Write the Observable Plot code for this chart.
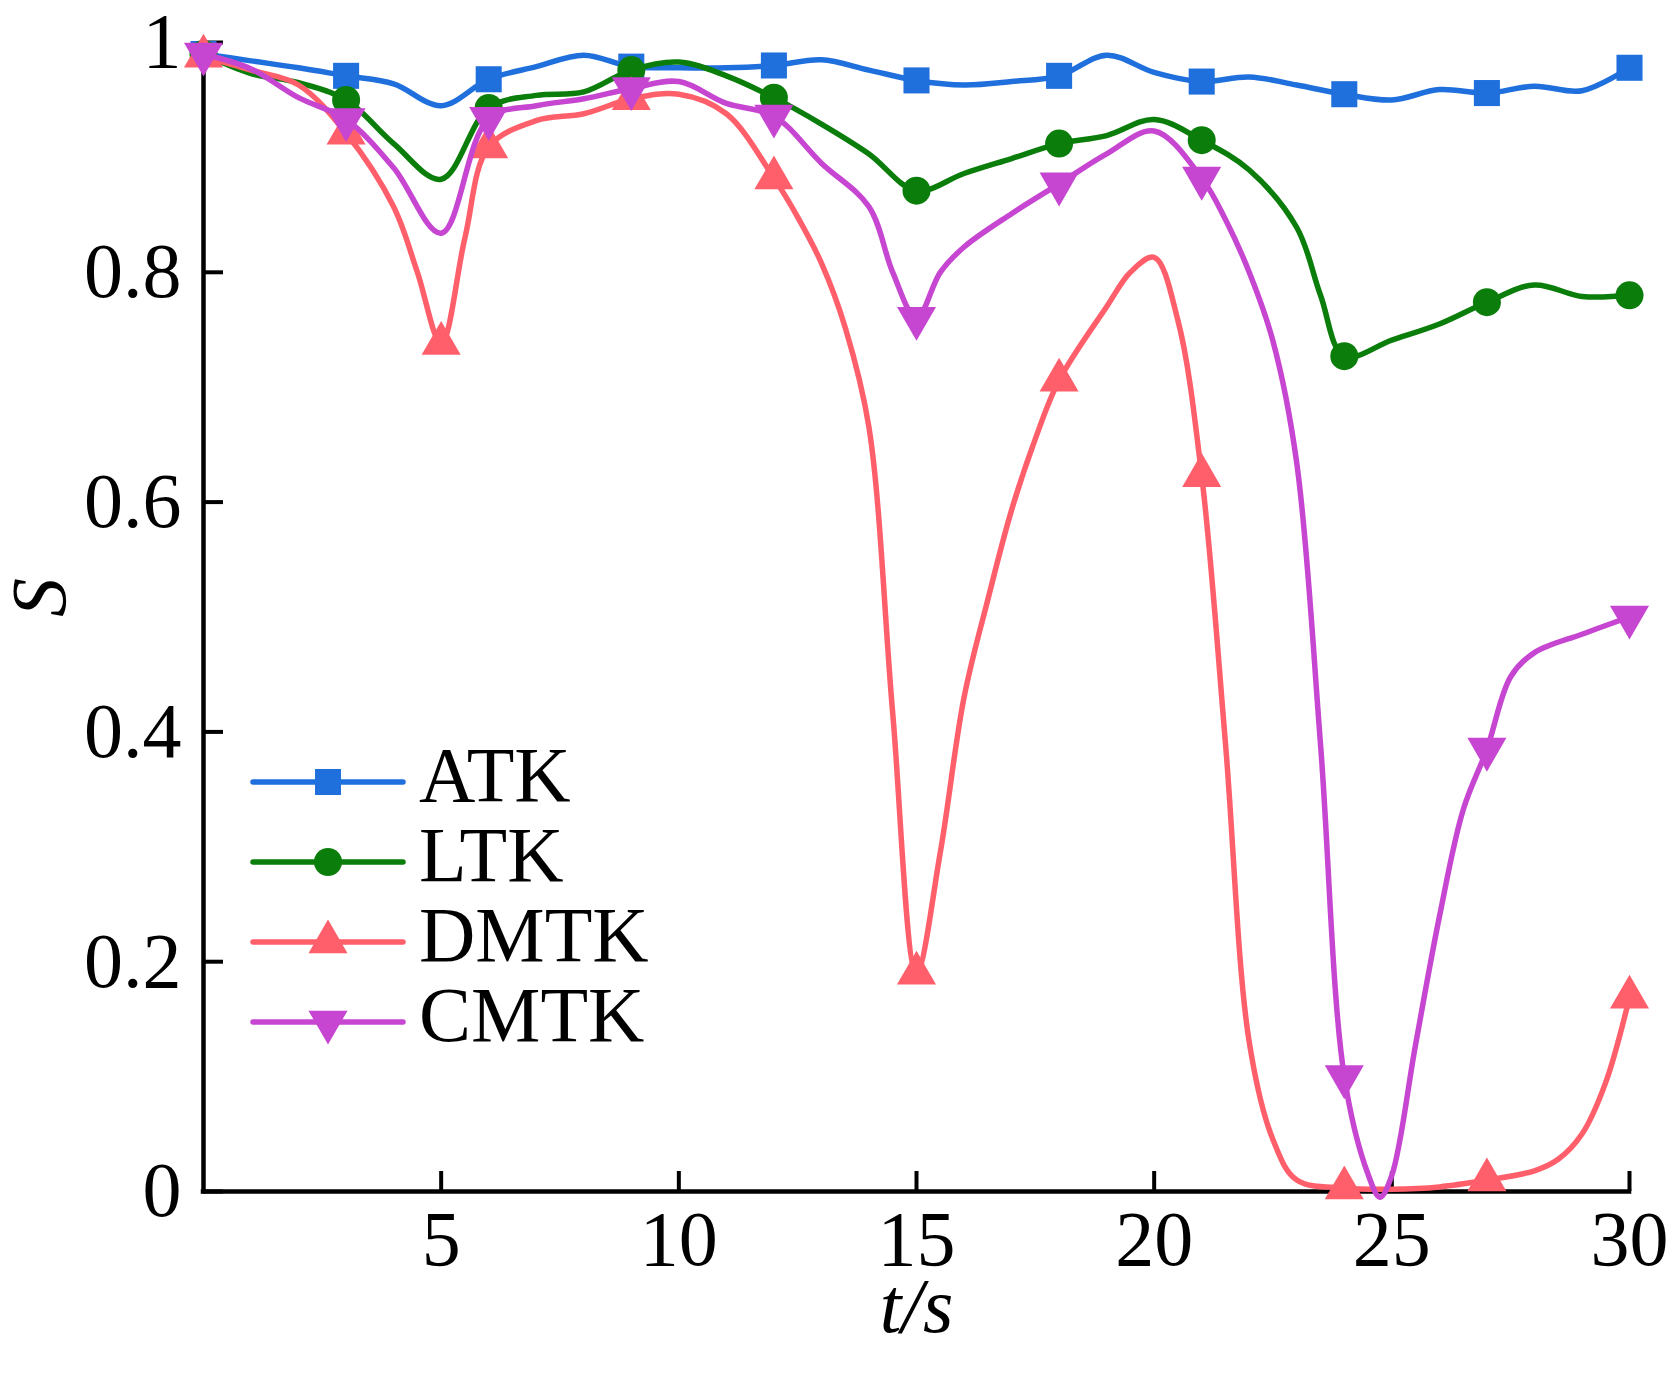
<!DOCTYPE html>
<html>
<head>
<meta charset="utf-8">
<script src="https://cdn.jsdelivr.net/npm/d3@7"></script>
<script src="https://cdn.jsdelivr.net/npm/@observablehq/plot@0.6"></script>
<style>
html, body { margin: 0; padding: 0; background: #fff; }
#wrap { position: relative; width: 1672px; height: 1385px; }
#wrap svg { display: block; }
</style>
</head>
<body>
<div id="wrap"></div>
<script>
// ---------- data ----------
const xTicks = [5, 10, 15, 20, 25, 30];
const yTicks = [0, 0.2, 0.4, 0.6, 0.8, 1];
const yTickLabels = ["0", "0.2", "0.4", "0.6", "0.8", "1"];
const xLabel = "t/s";
const yLabel = "S";

const seriesNames = ["ATK", "LTK", "DMTK", "CMTK"];
const seriesColors = ["#1f6fdd", "#0a7d0a", "#ff5f6b", "#c646d1"];
const seriesSymbols = ["square", "circle", "triangle", "triangle"];
const seriesRotate = [0, 0, 0, 180];
const seriesR = [14.7, 14, 14.5, 14.5];

const tATK = [0,1,2,3,4,5,6,7,8,9,10,11,12,13,14,15,16,17,18,19,20,21,22,23,24,25,26,27,28,29,30];
const sATK = [0.990,0.984,0.978,0.971,0.964,0.945,0.968,0.979,0.989,0.979,0.978,0.978,0.980,0.985,0.976,0.967,0.963,0.966,0.971,0.989,0.974,0.966,0.970,0.963,0.955,0.950,0.959,0.956,0.962,0.958,0.978];

const tLTK = [0,1,2,3,4,5,6,7,8,9,10,11,12,13,14,15,16,17,18,19,20,21,22,23,23.5,24,25,26,27,28,29,30];
const sLTK = [0.990,0.973,0.965,0.950,0.912,0.881,0.943,0.954,0.957,0.976,0.983,0.971,0.952,0.929,0.903,0.871,0.886,0.899,0.912,0.919,0.933,0.915,0.889,0.839,0.780,0.727,0.741,0.755,0.774,0.789,0.779,0.780];

const tDMTK = [0,1,2,3,4,4.5,5,5.5,6,7,8,9,10,11,12,12.5,13,13.5,14,14.5,15,15.5,16,16.5,17,17.5,18,19,19.5,20,20.5,21,21.5,22,22.5,23,24,25,26,27,28,28.5,29,29.5,30];
const sDMTK = [0.988,0.976,0.963,0.921,0.857,0.800,0.738,0.830,0.909,0.932,0.938,0.951,0.955,0.938,0.882,0.848,0.808,0.752,0.665,0.416,0.190,0.295,0.430,0.515,0.593,0.655,0.706,0.770,0.800,0.813,0.758,0.623,0.390,0.130,0.045,0.010,0.003,0.002,0.004,0.010,0.018,0.028,0.050,0.095,0.169];

const tCMTK = [0,1,2,3,4,5,6,7,8,9,10,11,12,13,14,14.5,15,15.5,16,17,18,19,20,21,21.5,22,22.5,23,23.5,24,24.5,24.75,25,25.5,26,26.5,27,27.5,28,29,30];
const sCMTK = [0.990,0.977,0.952,0.933,0.891,0.834,0.934,0.945,0.951,0.960,0.966,0.947,0.936,0.895,0.857,0.800,0.760,0.800,0.822,0.851,0.877,0.903,0.923,0.882,0.846,0.800,0.740,0.634,0.389,0.100,0.015,-0.005,0.014,0.128,0.239,0.332,0.385,0.448,0.469,0.485,0.500];

const markerT = [0,3,6,9,12,15,18,21,24,27,30];
const markerTDMTK = [0,3,5,6,9,12,15,18,21,24,27,30];

// ---------- build tables ----------
const seriesT = [tATK, tLTK, tDMTK, tCMTK];
const seriesS = [sATK, sLTK, sDMTK, sCMTK];
const seriesMarkerT = [markerT, markerT, markerTDMTK, markerT];

const lineData = seriesNames.map((name, i) => seriesT[i].map((t, j) => ({t, s: seriesS[i][j], name})));
const dotData = seriesNames.map((name, i) => seriesMarkerT[i].map(t => ({t, s: seriesS[i][seriesT[i].indexOf(t)], name})));

// ---------- layout ----------
const W = 1672, H = 1385;
const mL = 203, mR = 43, mT = 42, mB = 194;
const innerW = W - mL - mR, innerH = H - mT - mB;
const font = "'Liberation Serif', 'Times New Roman', serif";
const fs = 78;
const tickLen = 20;

const marks = [];
// axis lines
marks.push(Plot.ruleY([0], {stroke: "black", strokeWidth: 4.5, strokeLinecap: "square"}));
marks.push(Plot.ruleX([0], {stroke: "black", strokeWidth: 4.5, strokeLinecap: "square"}));
// inward ticks
marks.push(Plot.ruleX(xTicks, {x: d => d, insetTop: innerH - tickLen, stroke: "black", strokeWidth: 4}));
marks.push(Plot.ruleY(yTicks, {y: d => d, insetRight: innerW - tickLen, stroke: "black", strokeWidth: 4}));
// tick labels
marks.push(Plot.axisX(xTicks, {label: null, tickSize: 0, tickPadding: 18, tickFormat: d => String(d), fontSize: fs, fill: "black"}));
marks.push(Plot.axisY(yTicks, {label: null, tickSize: 0, tickPadding: 22, tickFormat: d => yTickLabels[yTicks.indexOf(d)], fontSize: fs, fill: "black"}));
// axis titles
marks.push(Plot.text([xLabel], {text: d => d, frameAnchor: "bottom", dy: 116, lineAnchor: "middle", fontStyle: "italic", fontSize: fs, fill: "black"}));
marks.push(Plot.text([yLabel], {text: d => d, frameAnchor: "left", dx: -163, rotate: -90, lineAnchor: "middle", fontStyle: "italic", fontSize: fs, fill: "black"}));

// series: line then markers
seriesNames.forEach((name, i) => {
  marks.push(Plot.line(lineData[i], {x: "t", y: "s", stroke: seriesColors[i], strokeWidth: 5.5, curve: "catmull-rom", strokeLinejoin: "round"}));
  marks.push(Plot.dot(dotData[i], {x: "t", y: "s", symbol: seriesSymbols[i], r: seriesR[i], fill: seriesColors[i], stroke: "none", rotate: seriesRotate[i]}));
});

const chart = Plot.plot({
  width: W,
  height: H,
  marginLeft: mL,
  marginRight: mR,
  marginTop: mT,
  marginBottom: mB,
  style: {fontFamily: font, fontSize: fs + "px", background: "white", color: "black", overflow: "visible"},
  x: {domain: [0, 30]},
  y: {domain: [0, 1]},
  marks
});

const wrap = document.getElementById("wrap");
wrap.appendChild(chart);

// ---------- legend overlay ----------
const legendX1 = 253, legendX2 = 403, legendSymX = 328, legendTextX = 419;
const legendY0 = 782, legendStep = 80;
const symbolTypes = {square: d3.symbolSquare, circle: d3.symbolCircle, triangle: d3.symbolTriangle};
const legend = d3.create("svg")
  .attr("width", W).attr("height", H)
  .style("position", "absolute").style("left", "0px").style("top", "0px")
  .style("pointer-events", "none");
seriesNames.forEach((name, i) => {
  const y = legendY0 + i * legendStep;
  const g = legend.append("g");
  g.append("line")
    .attr("x1", legendX1).attr("x2", legendX2).attr("y1", y).attr("y2", y)
    .attr("stroke", seriesColors[i]).attr("stroke-width", 5.5).attr("stroke-linecap", "round");
  g.append("path")
    .attr("d", d3.symbol(symbolTypes[seriesSymbols[i]], Math.PI * seriesR[i] * seriesR[i])())
    .attr("transform", `translate(${legendSymX},${y}) rotate(${seriesRotate[i]})`)
    .attr("fill", seriesColors[i]);
  g.append("text")
    .attr("x", legendTextX).attr("y", y + 19)
    .attr("font-family", font).attr("font-size", fs).attr("fill", "black")
    .text(name);
});
wrap.appendChild(legend.node());
</script>
</body>
</html>
